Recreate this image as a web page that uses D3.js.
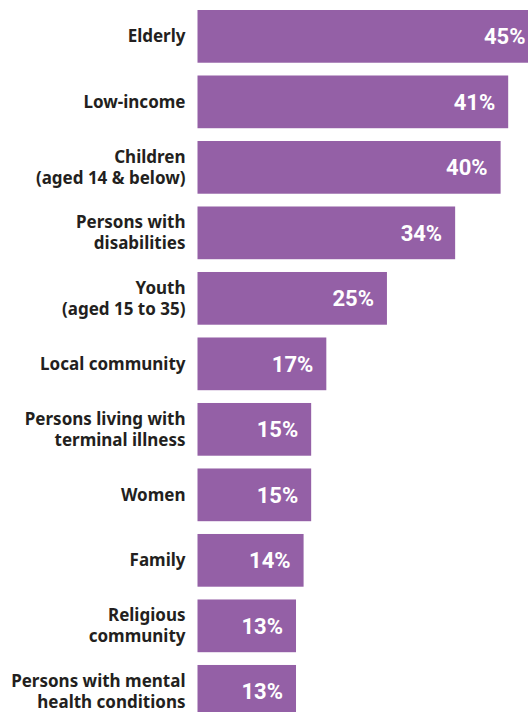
<!DOCTYPE html>
<html>
<head>
<meta charset="utf-8">
<script src="https://cdn.jsdelivr.net/npm/d3@7"></script>
<style>
  html, body { margin: 0; padding: 0; background: #ffffff; overflow: hidden; }
  svg { display: block; }
</style>
</head>
<body>
<svg id="chart" width="528" height="712"></svg>
<script>
// Groups (each entry is one or two label lines) and share of respondents (%)
const categories = [
  ["Elderly"],
  ["Low-income"],
  ["Children", "(aged 14 & below)"],
  ["Persons with", "disabilities"],
  ["Youth", "(aged 15 to 35)"],
  ["Local community"],
  ["Persons living with", "terminal illness"],
  ["Women"],
  ["Family"],
  ["Religious", "community"],
  ["Persons with mental", "health conditions"]
];
const values = [45, 41, 40, 34, 25, 17, 15, 15, 14, 13, 13];
const valueLabels = values.map(v => v + "%");

const rows = categories.map((lines, i) => ({ key: lines.join(" "), lines, value: values[i], label: valueLabels[i] }));

const purple = "#9460a6";
const labelColor = "#231f20";

const svg = d3.select("#chart");

const x = d3.scaleLinear()
  .domain([0, 45])
  .range([197.5, 538.5]);

const y = d3.scaleBand()
  .domain(rows.map(d => d.key))
  .range([10, 717.7])
  .paddingInner(0.195)
  .paddingOuter(0);

const bw = y.bandwidth();

// bars
svg.append("g")
  .selectAll("rect")
  .data(rows)
  .join("rect")
  .attr("x", x(0))
  .attr("y", d => y(d.key))
  .attr("width", d => x(d.value) - x(0))
  .attr("height", bw)
  .attr("fill", purple);

// value labels inside the bar ends
svg.append("g")
  .selectAll("text")
  .data(rows)
  .join("text")
  .attr("x", d => x(d.value) - 13)
  .attr("y", d => y(d.key) + bw / 2 + 8)
  .attr("text-anchor", "end")
  .style("font-family", "Roboto, 'Noto Sans', sans-serif")
  .style("font-weight", 700)
  .style("font-size", "22px")
  .attr("fill", "#ffffff")
  .text(d => d.label);

// category labels, one or two lines, right-aligned against the bars
const cat = svg.append("g")
  .selectAll("text")
  .data(rows)
  .join("text")
  .attr("text-anchor", "end")
  .style("font-family", "'Noto Sans', 'Open Sans', sans-serif")
  .style("font-weight", 700)
  .style("font-size", "17px")
  .attr("fill", labelColor)
  .attr("transform", d => `translate(185.5, ${y(d.key) + bw / 2})`);

cat.selectAll("tspan")
  .data(d => d.lines.map((t, i) => ({ t, i, n: d.lines.length })))
  .join("tspan")
  .attr("x", 0)
  .attr("y", d => d.n === 1 ? 6 : (d.i === 0 ? -4.5 : 16.5))
  .text(d => d.t);
</script>
</body>
</html>
